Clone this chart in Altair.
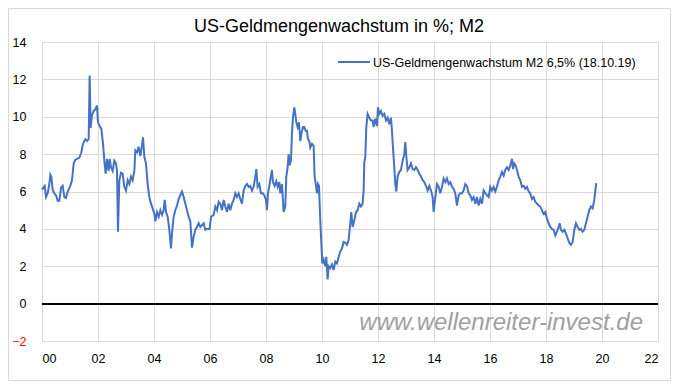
import altair as alt
import pandas as pd

# ---- data (decimal year, M2 growth in %) ----
years_a = [2000.00, 2000.095, 2000.143, 2000.202, 2000.262, 2000.298, 2000.333, 2000.381, 2000.440, 2000.500,
           2000.560, 2000.619, 2000.679, 2000.738, 2000.798, 2000.857, 2000.917, 2001.012, 2001.071, 2001.131,
           2001.190, 2001.25, 2001.333, 2001.405, 2001.464, 2001.548, 2001.607, 2001.667, 2001.702, 2001.738,
           2001.786, 2001.845, 2001.905, 2001.964, 2002.000, 2002.060, 2002.119, 2002.179, 2002.226, 2002.274,
           2002.321, 2002.381, 2002.417, 2002.464, 2002.524, 2002.583, 2002.643, 2002.679, 2002.714, 2002.762,
           2002.821, 2002.881, 2002.940, 2003.0, 2003.060, 2003.119, 2003.179, 2003.238, 2003.298, 2003.333,
           2003.393, 2003.452, 2003.512, 2003.571, 2003.607, 2003.655, 2003.714, 2003.774, 2003.833, 2003.893,
           2003.952, 2004.012, 2004.048, 2004.107, 2004.167, 2004.226, 2004.286, 2004.345, 2004.381, 2004.429,
           2004.488, 2004.548, 2004.607, 2004.643, 2004.702, 2004.762, 2004.821, 2004.881, 2004.940, 2005.0,
           2005.060, 2005.119, 2005.179, 2005.238, 2005.298, 2005.357, 2005.417, 2005.476, 2005.536, 2005.595,
           2005.655, 2005.774, 2005.833, 2005.893, 2005.988, 2006.036, 2006.131, 2006.190, 2006.25, 2006.310]
values_a = [6.1, 6.3, 5.7, 5.9, 6.4, 6.9, 6.8, 6.1, 5.9, 5.8,
            5.5, 5.5, 6.2, 6.3, 5.7, 5.65, 6.0, 6.3, 6.6, 7.5,
            7.7, 7.75, 7.8, 8.1, 8.55, 8.8, 8.7, 8.8, 12.2, 9.4,
            10.1, 10.3, 10.4, 10.6, 9.7, 9.5, 9.35, 8.55, 7.65, 6.95,
            7.75, 7.1, 7.75, 7.3, 7.1, 7.65, 7.5, 7.1, 3.85, 6.6,
            7.0, 6.95, 6.25, 6.05, 6.6, 6.4, 6.8, 6.6, 7.1, 8.2,
            8.1, 8.4, 7.9, 8.45, 8.9, 7.85, 7.5, 6.4, 5.7, 5.35,
            5.1, 4.8, 4.4, 4.9, 4.65, 5.0, 4.75, 5.0, 5.55, 4.9,
            4.65, 3.95, 2.95, 3.75, 4.65, 5.0, 5.25, 5.6, 5.8, 6.0,
            5.7, 5.35, 5.0, 4.65, 4.4, 3.0, 3.6, 3.95, 4.1, 4.3,
            4.1, 4.3, 3.95, 4.0, 4.0, 4.65, 4.75, 5.2, 5.0, 5.45]

years_b = [2006.368, 2006.428, 2006.487, 2006.547, 2006.606, 2006.666, 2006.725, 2006.785, 2006.844, 2006.904,
           2006.963, 2007.023, 2007.082, 2007.142, 2007.201, 2007.261, 2007.320, 2007.380, 2007.439, 2007.499,
           2007.558, 2007.618, 2007.654, 2007.701, 2007.761, 2007.820, 2007.880, 2007.939, 2007.999, 2008.035,
           2008.070, 2008.130, 2008.189, 2008.213, 2008.249, 2008.308, 2008.368, 2008.416, 2008.475, 2008.511,
           2008.570, 2008.630, 2008.689, 2008.725, 2008.773, 2008.808, 2008.844, 2008.892, 2008.927, 2008.963,
           2009.011, 2009.047, 2009.082, 2009.130, 2009.178, 2009.225, 2009.273, 2009.320, 2009.368, 2009.416,
           2009.463, 2009.499, 2009.547, 2009.582, 2009.642, 2009.701, 2009.737, 2009.785, 2009.820, 2009.856,
           2009.892, 2009.939, 2009.975, 2010.011, 2010.058, 2010.118, 2010.154, 2010.201, 2010.237, 2010.297,
           2010.356, 2010.416, 2010.475, 2010.535, 2010.594, 2010.654, 2010.713, 2010.773, 2010.832, 2010.892,
           2010.951, 2011.011, 2011.047, 2011.094, 2011.154, 2011.213, 2011.273, 2011.332, 2011.392, 2011.451,
           2011.487, 2011.511, 2011.547, 2011.582, 2011.630, 2011.689, 2011.749, 2011.808, 2011.844, 2011.904,
           2011.963, 2011.999, 2012.047, 2012.106, 2012.166, 2012.225, 2012.285, 2012.344, 2012.404, 2012.463,
           2012.499, 2012.535, 2012.582, 2012.618, 2012.654, 2012.701, 2012.761, 2012.820, 2012.880, 2012.939,
           2012.975, 2013.011, 2013.058, 2013.118, 2013.177, 2013.237, 2013.297, 2013.356, 2013.416, 2013.475,
           2013.535, 2013.594, 2013.654, 2013.713, 2013.773, 2013.832, 2013.892, 2013.951, 2013.987, 2014.047,
           2014.106, 2014.166]
values_b = [5.35, 5.0, 5.55, 5.2, 4.9, 5.35, 5.0, 5.35, 5.55, 5.9,
            5.7, 5.9, 5.6, 5.35, 6.05, 6.3, 6.4, 6.25, 6.3, 6.05,
            6.25, 6.8, 7.2, 6.25, 6.4, 5.9, 5.9, 5.8, 5.55, 5.0,
            5.9, 6.4, 6.95, 7.15, 6.5, 6.3, 6.55, 6.25, 6.5, 5.9,
            6.4, 4.9, 5.2, 6.8, 7.3, 8.0, 7.4, 7.65, 9.1, 9.95,
            10.5, 10.15, 9.7, 9.45, 9.7, 8.7, 9.15, 9.45, 9.45, 9.25,
            9.25, 8.8, 8.7, 8.35, 8.55, 8.45, 6.8, 6.3, 5.9, 6.4,
            6.3, 4.45, 3.25, 2.15, 2.35, 2.0, 2.5, 1.3, 2.0, 1.9,
            2.1, 1.8, 2.25, 2.15, 2.5, 2.8, 2.95, 3.3, 3.25, 3.15,
            3.4, 4.3, 4.9, 4.1, 4.45, 4.9, 5.0, 5.35, 5.2, 5.35,
            6.05, 7.55, 7.85, 9.45, 10.15, 9.95, 9.8, 9.8, 9.45, 9.9,
            9.5, 10.5, 10.15, 10.3, 10.05, 10.15, 9.8, 9.95, 9.6, 9.95,
            9.25, 8.35, 7.3, 6.4, 6.0, 6.8, 7.05, 7.15, 7.65, 8.0,
            8.65, 7.9, 7.15, 7.3, 7.5, 7.2, 7.15, 7.3, 7.15, 6.95,
            6.8, 6.6, 6.5, 6.3, 6.05, 6.3, 6.05, 5.7, 4.9, 5.7,
            6.4, 6.25]

years_c = [2014.225, 2014.285, 2014.344, 2014.404, 2014.463, 2014.523, 2014.582, 2014.642, 2014.701, 2014.761,
           2014.820, 2014.880, 2014.939, 2014.999, 2015.058, 2015.118, 2015.177, 2015.237, 2015.296, 2015.356,
           2015.415, 2015.475, 2015.535, 2015.594, 2015.654, 2015.713, 2015.773, 2015.832, 2015.892, 2015.951,
           2016.011, 2016.070, 2016.130, 2016.189, 2016.249, 2016.308, 2016.368, 2016.427, 2016.487, 2016.546,
           2016.606, 2016.665, 2016.725, 2016.785, 2016.820, 2016.868, 2016.915, 2016.963, 2017.023, 2017.082,
           2017.142, 2017.201, 2017.261, 2017.320, 2017.380, 2017.439, 2017.499, 2017.558, 2017.618, 2017.677,
           2017.737, 2017.796, 2017.856, 2017.915, 2017.975, 2018.035, 2018.094, 2018.154, 2018.213, 2018.273,
           2018.332, 2018.392, 2018.451, 2018.487, 2018.535, 2018.594, 2018.654, 2018.713, 2018.773, 2018.832,
           2018.892, 2018.951, 2019.011, 2019.070, 2019.130, 2019.189, 2019.249, 2019.308, 2019.368, 2019.427,
           2019.487, 2019.546, 2019.606, 2019.665, 2019.725, 2019.761, 2019.796]
values_c = [5.9, 6.25, 6.7, 6.5, 6.7, 6.4, 6.5, 6.25, 6.15, 5.9,
            5.25, 5.8, 5.9, 5.9, 6.05, 6.4, 6.3, 5.9, 5.8, 5.55,
            5.7, 5.35, 5.7, 5.25, 5.6, 5.35, 6.05, 5.9, 5.8, 5.7,
            6.25, 6.05, 6.25, 6.0, 6.25, 6.6, 6.8, 7.05, 6.85, 7.15,
            7.3, 7.15, 7.4, 7.75, 7.2, 7.5, 7.4, 7.15, 6.8, 6.6,
            6.25, 6.3, 6.15, 6.25, 6.0, 5.9, 5.6, 5.7, 5.45, 5.35,
            5.25, 5.2, 5.0, 4.8, 4.9, 4.55, 4.3, 4.1, 4.0, 3.95,
            3.65, 3.85, 4.1, 4.3, 3.95, 3.85, 3.95, 3.75, 3.5, 3.25,
            3.15, 3.3, 3.95, 4.3, 4.1, 3.95, 4.0, 3.85, 3.95, 4.3,
            4.65, 5.0, 5.2, 5.1, 5.55, 6.05, 6.45]

x_ticks = [2000, 2002, 2004, 2006, 2008, 2010, 2012, 2014, 2016, 2018, 2020, 2022]
y_ticks = [-2, 0, 2, 4, 6, 8, 10, 12, 14]

title_text = "US-Geldmengenwachstum in %; M2"
legend_text = "US-Geldmengenwachstum M2 6,5% (18.10.19)"
watermark_text = "www.wellenreiter-invest.de"

df = pd.DataFrame({"year": years_a + years_b + years_c,
                   "m2": values_a + values_b + values_c})
one = pd.DataFrame({"k": [0]})

FONT = "Liberation Sans"
BLUE = "#4472C4"

x_scale = alt.Scale(domain=[2000, 2022], nice=False, zero=False)
y_scale = alt.Scale(domain=[-2, 14], nice=False, zero=False)

x_axis = alt.Axis(values=x_ticks, grid=True, gridColor="#d9d9d9", labelPadding=11,
                  labelExpr="(datum.value % 100) < 10 ? '0' + (datum.value % 100) : '' + (datum.value % 100)")
y_axis = alt.Axis(values=y_ticks, grid=True, gridColor="#d9d9d9", labelPadding=16,
                  labelColor={"condition": {"test": "datum.value < 0", "value": "#ff0000"},
                              "value": "#000000"})

line = alt.Chart(df).mark_line(color=BLUE, strokeWidth=2).encode(
    x=alt.X("year:Q", scale=x_scale, title=None, axis=x_axis),
    y=alt.Y("m2:Q", scale=y_scale, title=None, axis=y_axis),
)

zero_rule = alt.Chart(df).mark_rule(color="black", strokeWidth=1.5).encode(
    y=alt.datum(0, scale=y_scale, title=None, axis=y_axis)
)

# outer frame of the picture, drawn as four rules
frame_top = alt.Chart(one).mark_rule(color="#d9d9d9", strokeWidth=1).encode(
    x=alt.value(-33.5), x2=alt.value(628.5), y=alt.value(-33.5))
frame_bottom = alt.Chart(one).mark_rule(color="#d9d9d9", strokeWidth=1).encode(
    x=alt.value(-33.5), x2=alt.value(628.5), y=alt.value(338.5))
frame_left = alt.Chart(one).mark_rule(color="#d9d9d9", strokeWidth=1).encode(
    x=alt.value(-33.5), y=alt.value(-33.5), y2=alt.value(338.5))
frame_right = alt.Chart(one).mark_rule(color="#d9d9d9", strokeWidth=1).encode(
    x=alt.value(628.5), y=alt.value(-33.5), y2=alt.value(338.5))

title = alt.Chart(one).mark_text(align="center", baseline="alphabetic", font=FONT,
                                 fontSize=18, color="black").encode(
    x=alt.value(297), y=alt.value(-10.5), text=alt.value(title_text)
)

leg_line = alt.Chart(one).mark_rule(color=BLUE, strokeWidth=2).encode(
    x=alt.value(296), x2=alt.value(328), y=alt.value(20)
)
leg_text = alt.Chart(one).mark_text(align="left", baseline="middle", font=FONT,
                                    fontSize=12.5, color="black").encode(
    x=alt.value(331), y=alt.value(20.5), text=alt.value(legend_text)
)

watermark = alt.Chart(one).mark_text(align="right", baseline="alphabetic", font=FONT,
                                     fontSize=24, fontStyle="italic", color="#a0a0a0").encode(
    x=alt.value(601), y=alt.value(288), text=alt.value(watermark_text)
)

chart = alt.layer(line, zero_rule, watermark, leg_line, leg_text, title,
                  frame_top, frame_bottom, frame_left, frame_right).properties(
    width=616, height=299,
    padding={"left": 34, "top": 34, "right": 13, "bottom": 40},
    autosize=alt.AutoSizeParams(type="none"),
).configure_view(
    stroke="#bfbfbf", strokeWidth=1
).configure_axis(
    domain=False, ticks=False, tickSize=0,
    gridColor="#d9d9d9", gridWidth=1,
    labelFont=FONT, labelFontSize=12.5, labelColor="black"
)

chart.save("out.html", embed_options={"renderer": "svg", "actions": False})
